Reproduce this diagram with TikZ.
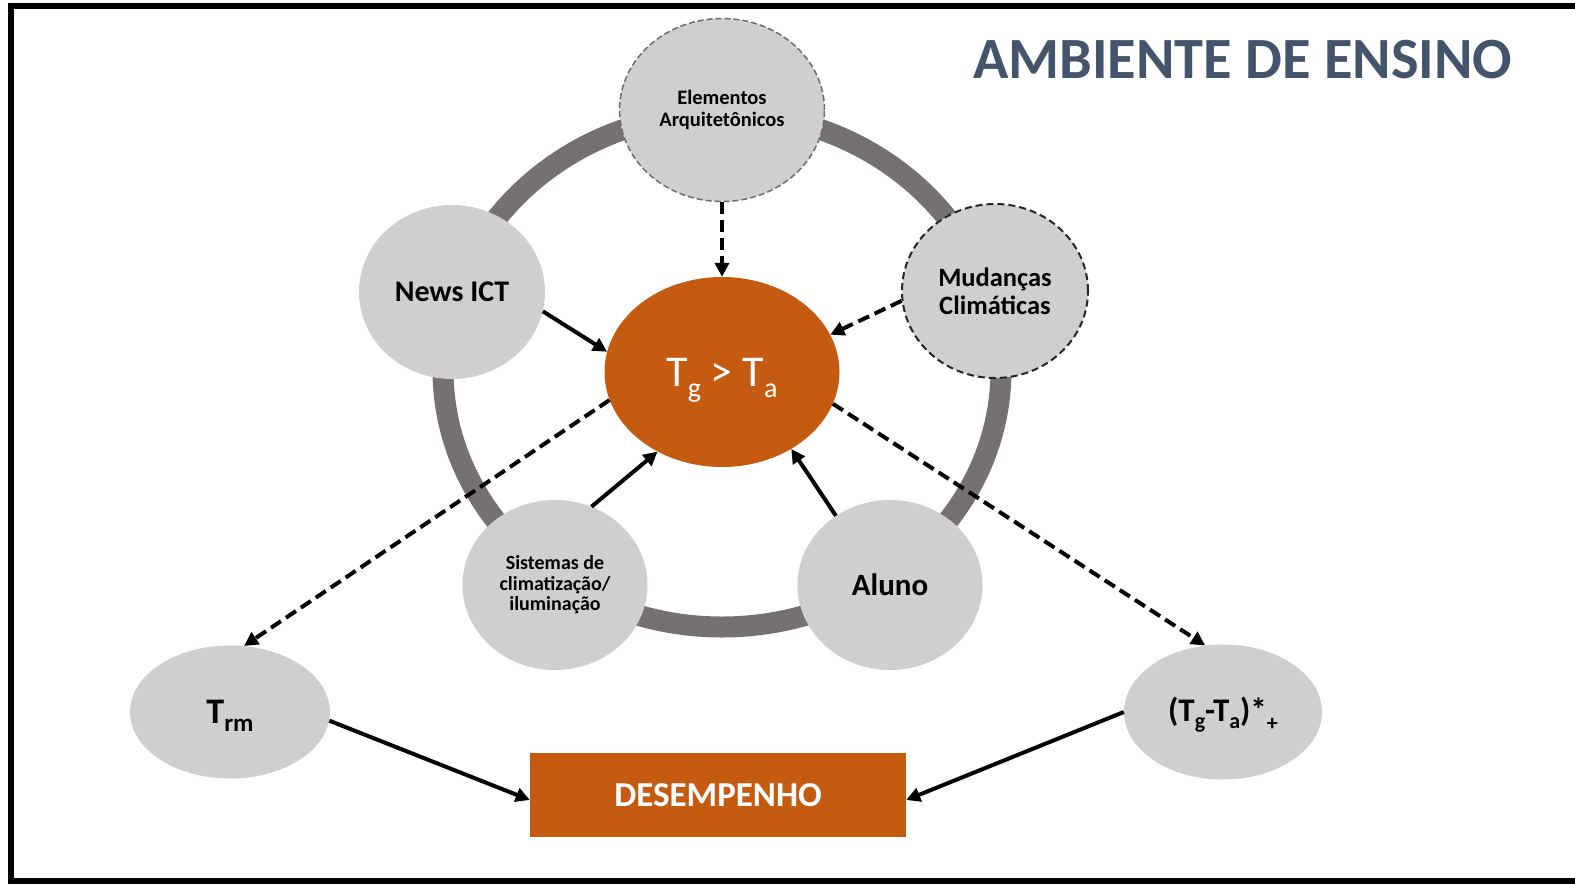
\documentclass[tikz,border=0pt]{standalone}
\usepackage{fontspec}
\setmainfont{Carlito}
\usetikzlibrary{shapes.geometric,arrows.meta}
\definecolor{ringgray}{HTML}{767171}
\definecolor{bubble}{HTML}{D0CECE}
\definecolor{burnt}{HTML}{C55A11}
\definecolor{titleblue}{HTML}{44546A}
\newcommand\fs[2]{\fontsize{#1}{#2}\selectfont}
\newcommand\lsub[3]{\raisebox{-#2pt}[0pt][0pt]{\fs{#1}{#1}#3}}
\begin{document}
\begin{tikzpicture}[x=1pt,y=-1pt,
  bub/.style={ellipse, fill=bubble, inner sep=0pt, align=center},
  solidarrow/.style={line width=4pt, -{Triangle[length=14pt,width=14pt]}},
  dasharrow/.style={solidarrow, dash pattern=on 12pt off 6pt},
]
\useasboundingbox (0,0) rectangle (1575,884);
\fill[white] (0,0) rectangle (1575,884);
% frame
\draw[line width=6pt] (1575,6) -- (11,6) -- (11,881) -- (1575,881);
% ring
\draw[ringgray, line width=21pt] (722,370) ellipse [x radius=279, y radius=257];
% title
\node[anchor=base west, text=titleblue, font=\bfseries\fs{58.4}{58}, inner sep=0pt] (title) at (973,78) {AMBIENTE DE ENSINO};
% bubbles
\node[bub, draw=gray!85!black, line width=1.5pt, dash pattern=on 6pt off 3pt,
  minimum width=205pt, minimum height=183pt, font=\bfseries\fs{20.5}{22}] (elem) at (722,110)
  {Elementos\\Arquitetônicos};
\node[bub, draw=black!85, line width=2pt, dash pattern=on 7pt off 4pt,
  minimum width=186pt, minimum height=174pt, font=\bfseries\fs{26.5}{28}] (mud) at (995,291)
  {Mudanças\\Climáticas};
\node[bub, minimum width=186pt, minimum height=174pt, font=\bfseries\fs{30}{30}] (news) at (452,292)
  {News ICT};
\node[bub, minimum width=185pt, minimum height=170pt, font=\bfseries\fs{20}{20.5}] (sis) at (555,585)
  {Sistemas de\\climatização/\\iluminação};
\node[bub, minimum width=185pt, minimum height=170pt, font=\bfseries\fs{31}{31}] (alu) at (890,585)
  {Aluno};
\node[ellipse, fill=burnt, inner sep=0pt, text=white, minimum width=235pt, minimum height=190pt,
  font=\fs{44}{44}] (tg) at (722,372)
  {T\lsub{28}{11}{g} > T\lsub{28}{11}{a}};
\node[bub, minimum width=200pt, minimum height=133pt, font=\bfseries\fs{36}{36}] (trm) at (230,712)
  {T\lsub{25}{8}{rm}};
\node[bub, minimum width=198pt, minimum height=135pt, font=\bfseries\fs{33}{33}] (tga) at (1223,712)
  {(T\lsub{22}{7}{g}-T\lsub{22}{7}{a})*\lsub{22}{9}{+}};
\node[fill=burnt, inner sep=0pt, text=white, font=\bfseries\fs{35}{35},
  minimum width=376pt, minimum height=84pt] (des) at (718,795) {DESEMPENHO};
% arrows into Tg > Ta
\draw[dasharrow] (elem.south) -- (tg.north);
\draw[dasharrow] (mud.186) -- (tg.19);
\draw[solidarrow] (news.348) -- (tg.170);
\draw[solidarrow] (sis.65) -- (tg.231);
\draw[solidarrow] (alu.128) -- (tg.312);
% arrows out of Tg > Ta
\draw[dasharrow] (tg.194) -- (trm.78);
\draw[dasharrow] (tg.344) -- (tga.105);
% arrows into DESEMPENHO
\draw[solidarrow] (trm.355) -- ([yshift=-5pt]des.west);
\draw[solidarrow] (tga.west) -- ([yshift=-5pt]des.east);
\end{tikzpicture}
\end{document}
